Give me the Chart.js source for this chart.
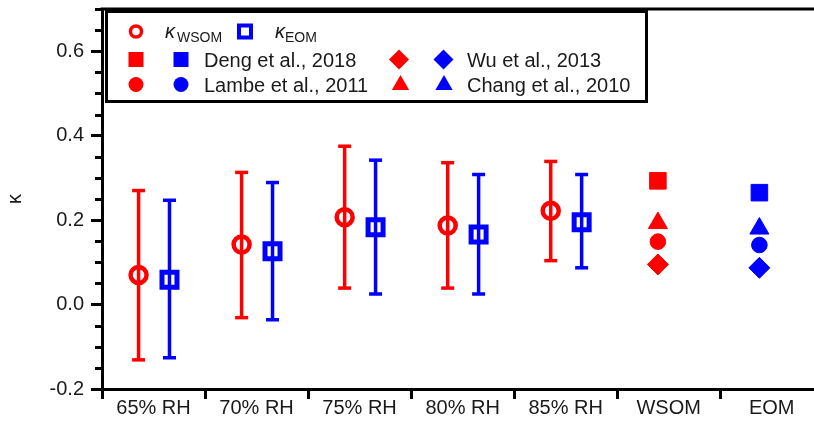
<!DOCTYPE html>
<html>
<head>
<meta charset="utf-8">
<script src="https://cdn.jsdelivr.net/npm/chart.js@4/dist/chart.umd.min.js"></script>
<style>
  html, body { margin: 0; padding: 0; background: #fff; overflow: hidden; }
  #chart { display: block; }
</style>
</head>
<body>
<canvas id="chart" width="814" height="423"></canvas>
<script>
// ===== DATA =====
const categories = ['65% RH', '70% RH', '75% RH', '80% RH', '85% RH', 'WSOM', 'EOM'];

// kappa of WSOM and EOM at each RH, with the error-bar ends
const wsomKappa = [0.070, 0.142, 0.207, 0.187, 0.222];
const wsomHigh  = [0.270, 0.313, 0.375, 0.336, 0.339];
const wsomLow   = [-0.131, -0.031, 0.039, 0.039, 0.104];
const eomKappa  = [0.059, 0.126, 0.183, 0.166, 0.195];
const eomHigh   = [0.247, 0.289, 0.342, 0.308, 0.308];
const eomLow    = [-0.126, -0.036, 0.025, 0.025, 0.087];

// literature values: [WSOM, EOM]
const deng2018  = [0.293, 0.265];
const chang2010 = [0.193, 0.180];
const lambe2011 = [0.149, 0.141];
const wu2013    = [0.095, 0.087];

// axis ticks
const yMajorTicks = [-0.2, 0.0, 0.2, 0.4, 0.6];
const yMinorTicks = [-0.15, -0.1, -0.05, 0.05, 0.1, 0.15, 0.25, 0.3, 0.35, 0.45, 0.5, 0.55, 0.65, 0.7];
const xBoundaries = [-0.5, 0.5, 1.5, 2.5, 3.5, 4.5, 5.5];

// ===== LAYOUT CONSTANTS =====
const RED = '#ff0000';
const BLUE = '#0000ff';
const TEXT = '#1a1a1a';
const FONT = '"Liberation Sans", Arial, sans-serif';
const WSOM_OFF = -0.145;   // horizontal offset of the WSOM marker in a group
const EOM_OFF = 0.155;
const LIT_OFF = [-0.105, -0.12];

// ===== BUILD DATASETS =====
function points(values, off) {
  return values.map(function(v, i) { return { x: i + off, y: v }; });
}

// error bars as a broken line: low, high, gap
function errorBars(low, high, off) {
  const out = [];
  low.forEach(function(lo, i) {
    out.push({ x: i + off, y: lo });
    out.push({ x: i + off, y: high[i] });
    out.push({ x: i + off, y: null });
  });
  return out;
}

function litPoints(values) {
  return values.map(function(v, i) { return { x: 5 + i + LIT_OFF[i], y: v }; });
}

function litSet(values, style, radius) {
  return {
    data: litPoints(values),
    pointStyle: style,
    pointRadius: radius,
    pointBorderWidth: 1,
    backgroundColor: [RED, BLUE],
    borderColor: [RED, BLUE]
  };
}

const datasets = [
  {
    label: 'kWSOM',
    data: points(wsomKappa, WSOM_OFF),
    pointStyle: 'circle',
    pointRadius: 8,
    pointBorderWidth: 4.5,
    borderColor: RED,
    backgroundColor: 'rgba(0,0,0,0)'
  },
  {
    label: 'kEOM',
    data: points(eomKappa, EOM_OFF),
    pointStyle: 'rect',
    pointRadius: 10.6,
    pointBorderWidth: 5,
    borderColor: BLUE,
    backgroundColor: 'rgba(0,0,0,0)'
  },
  {
    label: 'WSOM error',
    data: errorBars(wsomLow, wsomHigh, WSOM_OFF),
    showLine: true,
    spanGaps: false,
    borderColor: RED,
    borderWidth: 3.5,
    pointStyle: 'line',
    pointRadius: 6.5,
    pointBorderWidth: 3.5,
    pointBorderColor: RED
  },
  {
    label: 'EOM error',
    data: errorBars(eomLow, eomHigh, EOM_OFF),
    showLine: true,
    spanGaps: false,
    borderColor: BLUE,
    borderWidth: 3.5,
    pointStyle: 'line',
    pointRadius: 6.5,
    pointBorderWidth: 3.5,
    pointBorderColor: BLUE
  },
  litSet(deng2018, 'rect', 11.7),
  litSet(chang2010, 'triangle', 11),
  litSet(lambe2011, 'circle', 7.8),
  litSet(wu2013, 'rectRot', 10.5)
];

// ===== PLUGIN: top frame, minor ticks, legend box =====
const decorPlugin = {
  id: 'decor',
  afterDraw: function(chart) {
    const ctx = chart.ctx;
    const area = chart.chartArea;
    const y = chart.scales.y;
    ctx.save();
    ctx.strokeStyle = '#000';

    // top frame line
    ctx.lineWidth = 3;
    ctx.beginPath();
    ctx.moveTo(area.left - 1.5, area.top);
    ctx.lineTo(chart.width, area.top);
    ctx.stroke();

    // minor y ticks
    yMinorTicks.forEach(function(v) {
      const py = Math.round(y.getPixelForValue(v)) + 0.5;
      ctx.beginPath();
      ctx.moveTo(area.left - 7, py);
      ctx.lineTo(area.left, py);
      ctx.stroke();
    });

    // legend box
    ctx.fillStyle = '#fff';
    ctx.fillRect(106.5, 11.5, 540, 90);
    ctx.lineWidth = 3;
    ctx.strokeRect(106.5, 11.5, 540, 90);

    // row 1: open markers with kappa labels
    ctx.lineWidth = 3.5;
    ctx.strokeStyle = RED;
    ctx.beginPath();
    ctx.arc(136, 31.5, 5.5, 0, Math.PI * 2);
    ctx.stroke();
    ctx.lineWidth = 4;
    ctx.strokeStyle = BLUE;
    ctx.strokeRect(239, 25.5, 12, 12);

    ctx.fillStyle = TEXT;
    ctx.textBaseline = 'alphabetic';
    ctx.font = 'italic 20px ' + FONT;
    ctx.fillText('κ', 165, 38);
    ctx.fillText('κ', 275, 38);
    ctx.font = '14px ' + FONT;
    ctx.fillText('WSOM', 177, 42);
    ctx.fillText('EOM', 285, 42);

    // filled markers
    function square(x, cy, s, c) { ctx.fillStyle = c; ctx.fillRect(x - s / 2, cy - s / 2, s, s); }
    function dot(x, cy, r, c) { ctx.fillStyle = c; ctx.beginPath(); ctx.arc(x, cy, r, 0, Math.PI * 2); ctx.fill(); }
    function diamond(x, cy, r, c) {
      ctx.fillStyle = c; ctx.beginPath();
      ctx.moveTo(x - r, cy); ctx.lineTo(x, cy - r); ctx.lineTo(x + r, cy); ctx.lineTo(x, cy + r);
      ctx.closePath(); ctx.fill();
    }
    function triangle(x, cy, r, c) {
      ctx.fillStyle = c; ctx.beginPath();
      ctx.moveTo(x, cy - r);
      ctx.lineTo(x + r * 0.866, cy + r / 2);
      ctx.lineTo(x - r * 0.866, cy + r / 2);
      ctx.closePath(); ctx.fill();
    }

    square(136, 59.5, 15, RED);
    square(181, 59.5, 15, BLUE);
    dot(136, 84.5, 7.5, RED);
    dot(181, 84.5, 7.5, BLUE);
    diamond(399, 59.5, 10, RED);
    diamond(443.5, 59.5, 10, BLUE);
    triangle(400.5, 85, 10, RED);
    triangle(444, 85, 10, BLUE);

    ctx.fillStyle = TEXT;
    ctx.font = '20px ' + FONT;
    ctx.fillText('Deng et al., 2018', 204, 66.5);
    ctx.fillText('Lambe et al., 2011', 204, 91.5);
    ctx.fillText('Wu et al., 2013', 467, 66.5);
    ctx.fillText('Chang et al., 2010', 467, 91.5);

    ctx.restore();
  }
};

// ===== DRAW THE CHART =====
Chart.defaults.font.family = FONT;
Chart.defaults.font.size = 20;
Chart.defaults.color = TEXT;

new Chart(document.getElementById('chart').getContext('2d'), {
  type: 'scatter',
  data: { datasets: datasets },
  options: {
    responsive: false,
    animation: false,
    devicePixelRatio: 1,
    layout: { autoPadding: false, padding: { top: 9, right: 0, left: 0, bottom: 0 } },
    plugins: {
      legend: { display: false },
      tooltip: { enabled: false }
    },
    scales: {
      x: {
        type: 'linear',
        min: -0.5,
        max: 6.41,
        afterFit: function(scale) {
          scale.height = 34;
          scale.paddingLeft = 0;
          scale.paddingRight = 0;
        },
        afterBuildTicks: function(scale) {
          scale.ticks = xBoundaries.map(function(v) { return { value: v }; });
        },
        ticks: {
          autoSkip: false,
          maxRotation: 0,
          padding: -3,
          labelOffset: 51.5,
          callback: function(value) {
            return categories[Math.round(value + 0.5)];
          }
        },
        grid: {
          drawOnChartArea: false,
          tickLength: 10,
          tickWidth: 3,
          tickColor: '#000'
        },
        border: { display: true, width: 3, color: '#000' }
      },
      y: {
        min: -0.2,
        max: 0.7,
        afterFit: function(scale) {
          scale.width = 102;
          scale.paddingTop = 0;
          scale.paddingBottom = 0;
        },
        afterBuildTicks: function(scale) {
          scale.ticks = yMajorTicks.map(function(v) { return { value: v }; });
        },
        ticks: {
          padding: 7,
          callback: function(value) { return value.toFixed(1); }
        },
        title: {
          display: true,
          text: 'κ',
          font: { size: 20 },
          padding: { top: 3, bottom: 0 }
        },
        grid: {
          drawOnChartArea: false,
          tickLength: 11,
          tickWidth: 3,
          tickColor: '#000'
        },
        border: { display: true, width: 3, color: '#000' }
      }
    }
  },
  plugins: [decorPlugin]
});
</script>
</body>
</html>
